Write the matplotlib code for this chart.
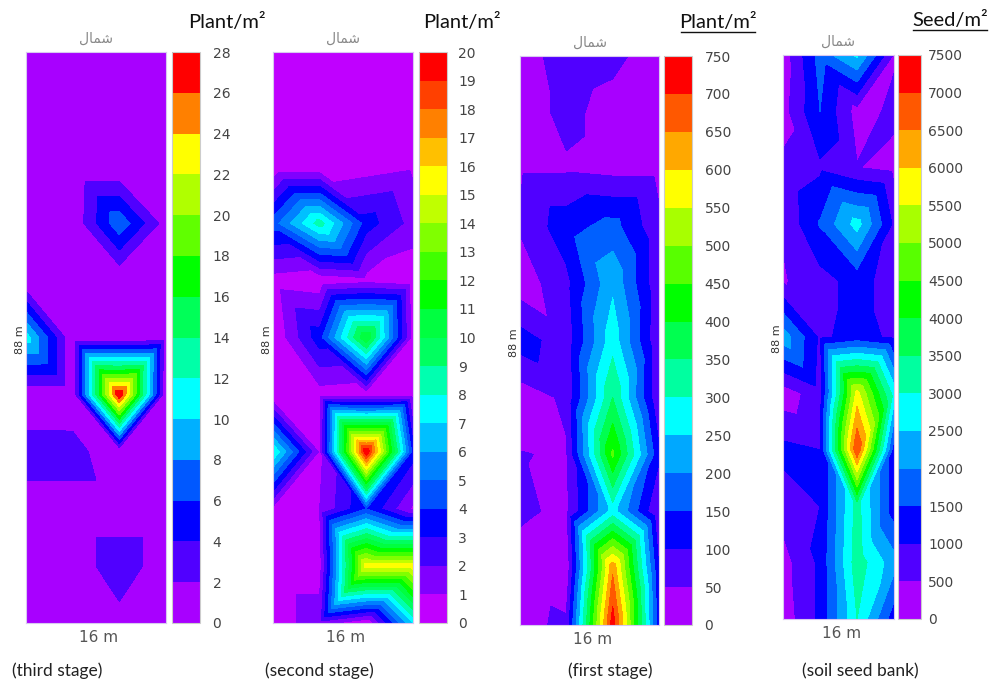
"""Weed density contour maps for one field strip, four sampling stages."""
import numpy as np
import matplotlib
matplotlib.use("Agg")
import matplotlib.pyplot as plt
import matplotlib.tri as mtri
from matplotlib.lines import Line2D

W, H = 989, 684

# values on a 4 x 11 sampling grid, top row first
third_stage = [
    [1, 1, 1, 1],
    [1, 1, 1, 1],
    [1, 0, 0, 0],
    [1, 0.3, 7.5, 1.0],
    [0, 1, 0, 1],
    [11, 0.2, 0, 0.5],
    [0.3, 0.2, 28, 0],
    [3, 3, 0, 1],
    [1, 1, 1, 1],
    [1, 1, 3, 1],
    [1, 1, 1.4, 1],
]
second_stage = [
    [0.5, 0.5, 0.5, 0.5],
    [0.5, 0.5, 0.5, 0.5],
    [0, 0, 0.4, 0.8],
    [4.5, 8.5, 3.5, 1.6],
    [0.5, 0.2, 0.6, 0.2],
    [0, 3.6, 11, 0.5],
    [0, 0.5, 0.3, 0.5],
    [8, 0.8, 20, 3.5],
    [0.7, 1.0, 4, 0.8],
    [0.5, 0.5, 15.5, 15.5],
    [0.5, 1.5, 0, 7],
]
first_stage = [
    [30, 70, 60, 30],
    [30, 60, 35, 30],
    [44, 45, 35, 35],
    [55, 130, 170, 60],
    [20, 85, 240, 60],
    [125, 70, 280, 55],
    [20, 60, 350, 50],
    [52, 45, 460, 110],
    [58, 40, 270, 45],
    [30, 10, 640, 100],
    [35, 60, 730, 120],
]
seed_bank = [
    [200, 1700, 2600, 450],
    [300, 1500, 300, 600],
    [600, 900, 520, 350],
    [550, 1550, 2700, 900],
    [450, 800, 1200, 750],
    [2300, 900, 1200, 900],
    [200, 800, 5700, 2800],
    [1150, 1000, 7000, 1200],
    [700, 1000, 3200, 1200],
    [300, 1100, 3300, 2200],
    [200, 1100, 3000, 1200],
]

ticks_third = list(range(0, 29, 2))
ticks_second = list(range(0, 21))
ticks_first = list(range(0, 751, 50))
ticks_seed = list(range(0, 7501, 500))

colors_14 = ["#a800ff", "#5000ff", "#0000ff", "#0058ff", "#00b0ff", "#00ffff", "#00ffa8",
             "#00ff58", "#00ff00", "#60ff00", "#b0ff00", "#ffff00", "#ff8000", "#ff0000"]
colors_20 = ["#c000ff", "#8000ff", "#4000ff", "#0000ff", "#0050ff", "#0080ff", "#00c0ff",
             "#00ffff", "#00ffb0", "#00ff60", "#00ff40", "#00ff00", "#40ff00", "#80ff00",
             "#c0ff00", "#ffff00", "#ffc000", "#ff8000", "#ff4000", "#ff0000"]
colors_15 = ["#a800ff", "#5000ff", "#0000ff", "#0060ff", "#00a8ff", "#00ffff", "#00ffa0",
             "#00ff50", "#00ff00", "#58ff00", "#a8ff00", "#ffff00", "#ffa800", "#ff5800",
             "#ff0000"]

PANELS = [
    dict(z=third_stage, ticks=ticks_third, colors=colors_14, box=(26, 52, 166, 623),
         cbar=(172, 200), pad=9, title="Plant/m²", tx=227, ty=22, line=False,
         caption="(third stage)", cx=12, flips=[(2, 2)]),
    dict(z=second_stage, ticks=ticks_second, colors=colors_20, box=(273, 52, 413, 623),
         cbar=(419, 447), pad=8, title="Plant/m²", tx=462, ty=22, line=False,
         caption="(second stage)", cx=265, flips=[(7, 0), (9, 1)]),
    dict(z=first_stage, ticks=ticks_first, colors=colors_15, box=(520, 56, 659, 625),
         cbar=(664, 692), pad=9, title="Plant/m²", tx=718, ty=22, line=True,
         caption="(first stage)", cx=568, flips=[]),
    dict(z=seed_bank, ticks=ticks_seed, colors=colors_15, box=(783, 55, 894, 619),
         cbar=(898, 921), pad=5, title="Seed/m²", tx=950, ty=20, line=True,
         caption="(soil seed bank)", cx=802, flips=[]),
]


def px_axes(fig, x0, y0, x1, y1):
    return fig.add_axes([x0 / W, 1 - y1 / H, (x1 - x0) / W, (y1 - y0) / H])


def grid_triangles(n_rows, n_cols, flips):
    # cell diagonals lean towards the third column, some cells go the other way
    tris = []
    for r in range(n_rows - 1):
        for c in range(n_cols - 1):
            ul, ur = r * n_cols + c, r * n_cols + c + 1
            ll, lr = ul + n_cols, ur + n_cols
            down_right = c < 2
            if (r, c) in flips:
                down_right = not down_right
            if down_right:
                tris += [[ul, ur, lr], [ul, lr, ll]]
            else:
                tris += [[ul, ur, ll], [ur, lr, ll]]
    return tris


fig = plt.figure(figsize=(W / 100, H / 100), dpi=100, facecolor="white")

for p in PANELS:
    z = np.array(p["z"], dtype=float)
    n_rows, n_cols = z.shape
    xx, yy = np.meshgrid(np.linspace(0, 16, n_cols), np.linspace(88, 0, n_rows))
    tri = mtri.Triangulation(xx.ravel(), yy.ravel(), grid_triangles(n_rows, n_cols, p["flips"]))

    x0, y0, x1, y1 = p["box"]
    ax = px_axes(fig, x0, y0, x1, y1)
    cs = ax.tricontourf(tri, z.ravel(), levels=p["ticks"], colors=p["colors"])
    ax.set_xlim(0, 16)
    ax.set_ylim(0, 88)
    ax.set_xticks([])
    ax.set_yticks([])
    for s in ax.spines.values():
        s.set_color("#d8c8f0")
        s.set_linewidth(0.8)

    cax = px_axes(fig, p["cbar"][0], y0, p["cbar"][1], y1)
    cb = fig.colorbar(cs, cax=cax, ticks=p["ticks"], spacing="uniform", drawedges=False)
    cb.ax.tick_params(length=0, pad=p["pad"], labelsize=10, labelcolor="#444444",
                      labelfontfamily="DejaVu Sans")
    cb.outline.set_edgecolor("#cccccc")
    cb.outline.set_linewidth(0.8)

    mid = (x0 + x1) / 2
    fig.text(mid / W, 1 - (y0 - 13) / H, "\ufedd\ufe8e\ufee4\ufeb7", fontsize=10, color="#888888",
             family="DejaVu Sans", ha="center", va="center")
    fig.text((mid + 3) / W, 1 - (y1 + 15) / H, "16 m", fontsize=11, color="#555555",
             family="DejaVu Sans", ha="center", va="center")
    fig.text((x0 - 6) / W, 1 - ((y0 + y1) / 2 + 2) / H, "88 m", fontsize=8, rotation=90, color="#333333",
             family="DejaVu Sans", ha="center", va="center",
             bbox=dict(facecolor="white", edgecolor="none", pad=1))

    fig.text(p["tx"] / W, 1 - p["ty"] / H, p["title"], fontsize=14.5, family="Lato", color="#111111",
             ha="center", va="center")
    if p["line"]:
        half = 37
        ly = 1 - (p["ty"] + 10) / H
        fig.add_artist(Line2D([(p["tx"] - half) / W, (p["tx"] + half) / W], [ly, ly],
                              color="#111111", linewidth=1))
    fig.text(p["cx"] / W, 1 - 671 / H, p["caption"], fontsize=12.5, family="Lato", color="#222222",
             ha="left", va="center")

fig.savefig("out.png", dpi=100)
